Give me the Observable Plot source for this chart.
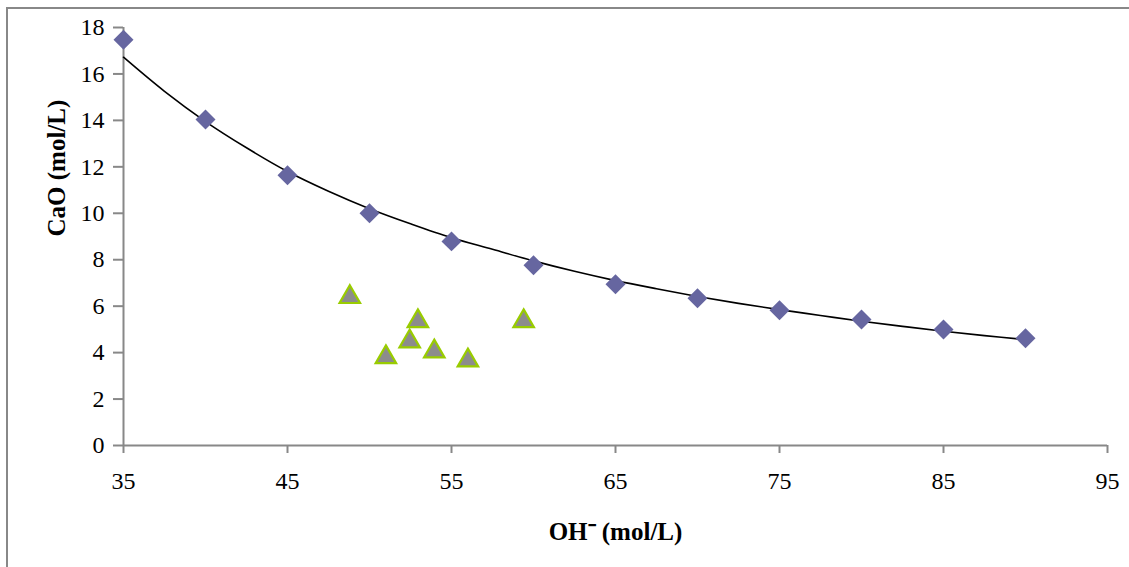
<!DOCTYPE html>
<html>
<head>
<meta charset="utf-8">
<script src="https://cdn.jsdelivr.net/npm/d3@7"></script>
<script src="https://cdn.jsdelivr.net/npm/@observablehq/plot@0.6"></script>
<style>
  html, body { margin: 0; padding: 0; background: #fff; }
</style>
</head>
<body>
<div id="chart"></div>
<script>
// Diamonds: measured series
const ohValues  = [35, 40, 45, 50, 55, 60, 65, 70, 75, 80, 85, 90];
const caoValues = [17.47, 14.04, 11.64, 10.0, 8.79, 7.76, 6.94, 6.34, 5.82, 5.43, 5.0, 4.62];

// Triangles: second series
const triOH  = [48.8, 51.0, 52.45, 52.95, 53.95, 56.0, 59.4];
const triCaO = [6.52, 3.93, 4.61, 5.48, 4.18, 3.79, 5.48];

// Trend line
const trendOH  = [35, 37.5, 40, 42.5, 45, 47.5, 50, 52.5, 55, 57.5, 60, 62.5, 65, 67.5, 70, 72.5, 75, 77.5, 80, 82.5, 85, 87.5, 90];
const trendCaO = [16.72, 15.25, 13.95, 12.82, 11.8, 10.95, 10.2, 9.55, 8.95, 8.45, 7.95, 7.5, 7.1, 6.75, 6.42, 6.12, 5.85, 5.6, 5.35, 5.13, 4.92, 4.73, 4.56];

const xTicks = [35, 45, 55, 65, 75, 85, 95];
const yTicks = [0, 2, 4, 6, 8, 10, 12, 14, 16, 18];

const xTitle = "OH\u207B (mol/L)";
const yTitle = "CaO (mol/L)";

const diamonds = ohValues.map((x, i) => ({x, y: caoValues[i]}));
const triangles = triOH.map((x, i) => ({x, y: triCaO[i]}));
const trend = trendOH.map((x, i) => ({x, y: trendCaO[i]}));

const serif = "'Liberation Serif', 'Times New Roman', serif";

const chart = Plot.plot({
  width: 1129,
  height: 567,
  marginLeft: 123,
  marginRight: 22,
  marginTop: 27,
  marginBottom: 122,
  style: {fontFamily: serif, fontSize: "24px", background: "#fff", color: "black"},
  x: {domain: [35, 95]},
  y: {domain: [0, 18]},
  marks: [
    Plot.axisX({ticks: xTicks, tickSize: 8, tickPadding: 18, stroke: "#888", strokeWidth: 2, fill: "black", label: null, fontSize: 24, fontFamily: serif, tickFormat: d => String(d)}),
    Plot.axisY({ticks: yTicks, tickSize: 10, tickPadding: 9, stroke: "#888", strokeWidth: 2, fill: "black", label: null, fontSize: 24, fontFamily: serif, tickFormat: d => String(d)}),
    Plot.ruleY([0], {stroke: "#888", strokeWidth: 2}),
    Plot.ruleX([35], {stroke: "#888", strokeWidth: 2}),
    Plot.line(trend, {x: "x", y: "y", stroke: "black", strokeWidth: 1.6, curve: "catmull-rom"}),
    Plot.dot(diamonds, {x: "x", y: "y", symbol: "diamond2", r: 9, fill: "#6666a0", stroke: "none"}),
    Plot.dot(triangles, {x: "x", y: "y", symbol: "triangle", r: 7.6, fill: "#8c8c8c", stroke: "#99cc00", strokeWidth: 2.2, dy: 3}),
    Plot.text([xTitle], {frameAnchor: "bottom", dy: 94, text: d => d, fontSize: 25, fontWeight: "bold", fontFamily: serif, fill: "black"}),
    Plot.text([yTitle], {frameAnchor: "left", dx: -67, rotate: -90, text: d => d, fontSize: 25, fontWeight: "bold", fontFamily: serif, fill: "black"})
  ]
});

// outer chart-area border
d3.select(chart).append("rect")
  .attr("x", 7).attr("y", 8)
  .attr("width", 1140).attr("height", 580)
  .attr("fill", "none").attr("stroke", "#888").attr("stroke-width", 2);

document.getElementById("chart").appendChild(chart);
</script>
</body>
</html>
